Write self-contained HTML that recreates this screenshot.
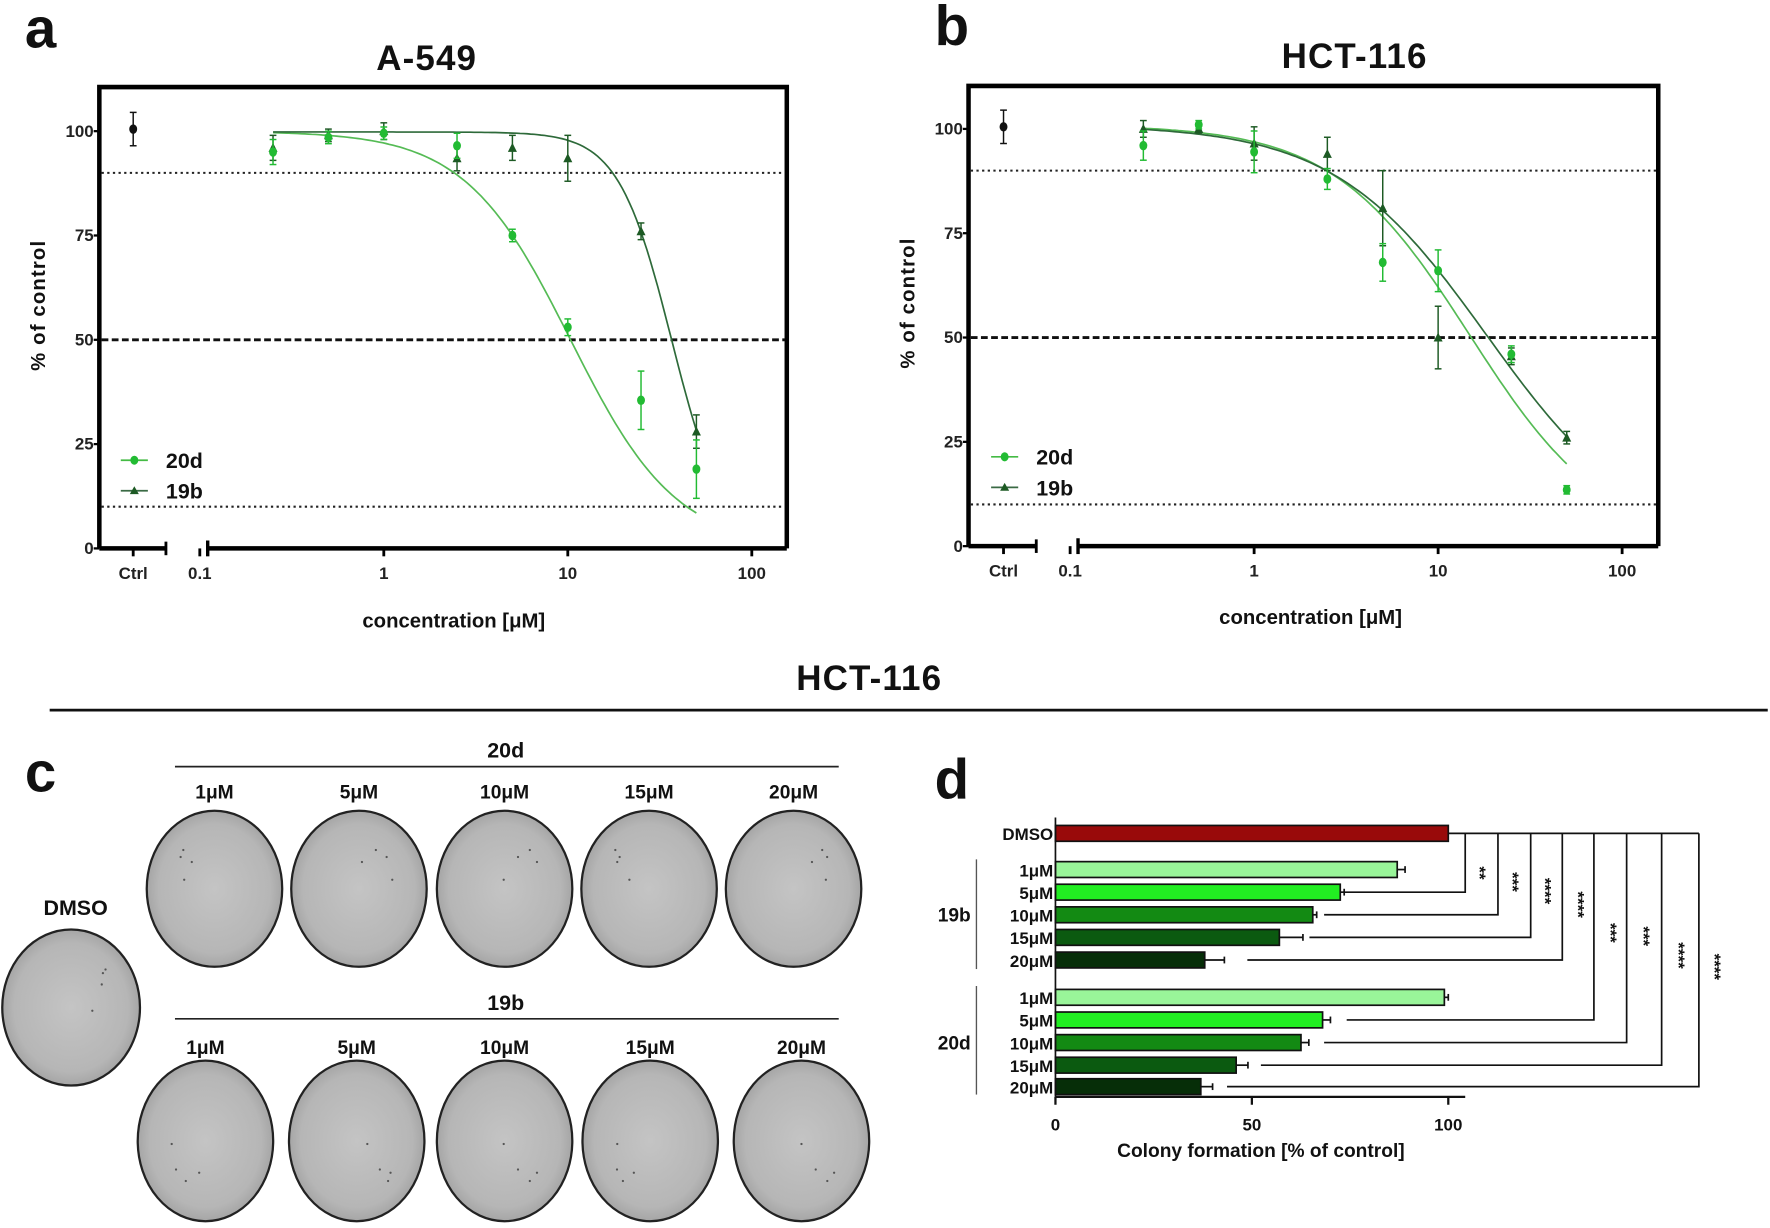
<!DOCTYPE html>
<html><head><meta charset="utf-8">
<style>
html,body{margin:0;padding:0;background:#fff;}
svg{display:block;font-family:"Liberation Sans",sans-serif;}
</style></head>
<body>
<svg id="s" width="1770" height="1228" viewBox="0 0 1568 1086" preserveAspectRatio="none" xmlns="http://www.w3.org/2000/svg">
<rect width="1568" height="1086" fill="#fff"/>
<g font-weight="bold" fill="#111">
<text x="22" y="42" font-size="50">a</text>
<text x="828" y="40" font-size="50">b</text>
<text x="22" y="700" font-size="50">c</text>
<text x="828" y="706" font-size="50">d</text>
<text x="378" y="62" font-size="31" text-anchor="middle" letter-spacing="1">A-549</text>
<text x="1200" y="60" font-size="31" text-anchor="middle" letter-spacing="1">HCT-116</text>
<text x="770" y="610" font-size="31" text-anchor="middle" letter-spacing="1">HCT-116</text>
<text x="402" y="555" font-size="18" text-anchor="middle">concentration [μM]</text>
<text x="1161" y="552" font-size="18" text-anchor="middle">concentration [μM]</text>
<text transform="translate(40,270) rotate(-90)" font-size="18" text-anchor="middle" letter-spacing="1">% of control</text>
<text transform="translate(810,268) rotate(-90)" font-size="18" text-anchor="middle" letter-spacing="1">% of control</text>
</g>
<line x1="44" y1="628" x2="1566" y2="628" stroke="#111" stroke-width="2.5"/>
<g id="plots"></g>
<g id="dishes"></g>
<g id="bars"></g>
</svg>
<script>
var NS="http://www.w3.org/2000/svg";
function el(p,t,a,txt){var e=document.createElementNS(NS,t);for(var k in a)e.setAttribute(k,a[k]);if(txt!==undefined)e.textContent=txt;p.appendChild(e);return e;}
var P=document.getElementById('plots');
function panel(o){
 var L=o.L,R=o.R,T=o.T,B=o.B;
 var X=function(c){return o.x1+Math.log10(c)*163;};
 var Y=function(v){return B-v*(B-o.y100)/100;};
 el(P,'polyline',{points:L+','+B+' '+L+','+T+' '+R+','+T+' '+R+','+B,fill:'none',stroke:'#000','stroke-width':4});
 el(P,'line',{x1:L,y1:B,x2:o.cx+29,y2:B,stroke:'#000','stroke-width':4});
 el(P,'line',{x1:o.cx+29,y1:B-6,x2:o.cx+29,y2:B+6,stroke:'#000','stroke-width':2.5});
 el(P,'line',{x1:o.x1-163+7,y1:B,x2:R,y2:B,stroke:'#000','stroke-width':4});
 el(P,'line',{x1:o.x1-163+7,y1:B-7,x2:o.x1-163+7,y2:B+7,stroke:'#000','stroke-width':3});
 var xt=[[o.cx,'Ctrl'],[X(0.1),'0.1'],[X(1),'1'],[X(10),'10'],[X(100),'100']];
 xt.forEach(function(t){el(P,'line',{x1:t[0],y1:B,x2:t[0],y2:B+7,stroke:'#000','stroke-width':2.5});
  el(P,'text',{x:t[0],y:B+27,'font-size':15,'font-weight':'bold','text-anchor':'middle',fill:'#222'},t[1]);});
 [0,25,50,75,100].forEach(function(v){var y=Y(v);el(P,'line',{x1:L-5,y1:y,x2:L,y2:y,stroke:'#000','stroke-width':2});
  el(P,'text',{x:L-5,y:y+5,'font-size':15,'font-weight':'bold','text-anchor':'end',fill:'#222'},''+v);});
 el(P,'line',{x1:L+2,y1:Y(90),x2:R-2,y2:Y(90),stroke:'#222','stroke-width':1.8,'stroke-dasharray':'2,3'});
 el(P,'line',{x1:L+2,y1:Y(10),x2:R-2,y2:Y(10),stroke:'#222','stroke-width':1.8,'stroke-dasharray':'2,3'});
 el(P,'line',{x1:L+2,y1:Y(50),x2:R-2,y2:Y(50),stroke:'#111','stroke-width':2.5,'stroke-dasharray':'6,3'});
 o.curves.forEach(function(c){var pts=[];for(var i=0;i<=120;i++){var lx=Math.log10(0.25)+i*(Math.log10(50)-Math.log10(0.25))/120;var x=Math.pow(10,lx);var v=c.top/(1+Math.pow(x/c.ic,c.h));pts.push(X(x).toFixed(1)+','+Y(v).toFixed(1));}
  el(P,'polyline',{points:pts.join(' '),fill:'none',stroke:c.col,'stroke-width':1.5});});
 var conc=[0.25,0.5,1,2.5,5,10,25,50];
 function pt(x,v,e,col,tri){el(P,'line',{x1:x,y1:Y(v+e),x2:x,y2:Y(v-e),stroke:col,'stroke-width':1.3});
  el(P,'line',{x1:x-3,y1:Y(v+e),x2:x+3,y2:Y(v+e),stroke:col,'stroke-width':1.3});el(P,'line',{x1:x-3,y1:Y(v-e),x2:x+3,y2:Y(v-e),stroke:col,'stroke-width':1.3});
  if(tri){var y=Y(v);el(P,'polygon',{points:(x-4)+','+(y+3.5)+' '+(x+4)+','+(y+3.5)+' '+x+','+(y-4.5),fill:col});}
  else el(P,'ellipse',{cx:x,cy:Y(v),rx:3.5,ry:4.2,fill:col});}
 pt(o.cx,100.5,4,'#111',false);
 o.s19.forEach(function(d,i){pt(X(conc[i]),d[0],d[1],'#1d5a24',true);});
 o.s20.forEach(function(d,i){pt(X(conc[i]),d[0],d[1],'#22bb33',false);});
 var lx=o.lx,ly=o.ly;
 el(P,'line',{x1:lx,y1:ly,x2:lx+24,y2:ly,stroke:'#44bb44','stroke-width':1.5});
 el(P,'ellipse',{cx:lx+12,cy:ly,rx:3.5,ry:4,fill:'#22bb33'});
 el(P,'line',{x1:lx,y1:ly+27,x2:lx+24,y2:ly+27,stroke:'#3a6a44','stroke-width':1.5});
 el(P,'polygon',{points:(lx+8)+','+(ly+30)+' '+(lx+16)+','+(ly+30)+' '+(lx+12)+','+(ly+23),fill:'#1d5a24'});
 el(P,'text',{x:lx+40,y:ly+7,'font-size':19,'font-weight':'bold',fill:'#111'},'20d');
 el(P,'text',{x:lx+40,y:ly+34,'font-size':19,'font-weight':'bold',fill:'#111'},'19b');
}
panel({L:88,R:697,T:77,B:485,y100:116,cx:118,x1:340,lx:107,ly:407,
 curves:[{top:100,ic:10.35,h:1.51,col:'#55bb55'},{top:99.8,ic:36.7,h:3.0,col:'#2e6a3a'}],
 s20:[[95,3],[98.5,1.5],[99.5,1.5],[96.5,3],[75,1.5],[53,2],[35.5,7],[19,7]],
 s19:[[96,3],[99,1.5],[100,2],[93.5,3],[96,3],[93.5,5.5],[76,2],[28,4]]});
panel({L:858,R:1469,T:76,B:483,y100:114,cx:889,x1:1111,lx:878,ly:404,
 curves:[{top:101,ic:14.9,h:1.17,col:'#55bb55'},{top:101,ic:18.4,h:1.047,col:'#2e6a3a'}],
 s20:[[96,3.5],[101,1],[94.5,5],[88,2.5],[68,4.5],[66,5],[46,2],[13.5,1]],
 s19:[[100,2],[100,1],[96.5,4],[94,4],[81,9],[50,7.5],[45.5,2],[26,1.5]]});
var D=document.getElementById('dishes');
var defs=el(D,'defs',{});
var g=el(defs,'radialGradient',{id:'dg',cx:'50%',cy:'50%',r:'55%'});
el(g,'stop',{offset:'0%','stop-color':'#c4c4c4'});el(g,'stop',{offset:'75%','stop-color':'#b6b6b6'});el(g,'stop',{offset:'100%','stop-color':'#9c9c9c'});
function dish(cx,cy,rx,ry){el(D,'ellipse',{cx:cx,cy:cy,rx:rx,ry:ry,fill:'url(#dg)',stroke:'#222','stroke-width':2});
 for(var i=0;i<4;i++){var a=Math.sin(cx*7+i*13)*0.5,b=Math.cos(cy*3+i*7)*0.5;el(D,'circle',{cx:cx+a*rx,cy:cy+b*ry,r:1,fill:'#555'});}}
var c1=[190,318,447,575,703],c2=[182,316,447,576,710],lab=['1μM','5μM','10μM','15μM','20μM'];
c1.forEach(function(x,i){dish(x,786,60,69);el(D,'text',{x:x,y:706,'font-size':17,'font-weight':'bold','text-anchor':'middle',fill:'#111'},lab[i]);});
c2.forEach(function(x,i){dish(x,1009,60,71);el(D,'text',{x:x,y:932,'font-size':17,'font-weight':'bold','text-anchor':'middle',fill:'#111'},lab[i]);});
dish(63,891,61,69);
el(D,'text',{x:67,y:809,'font-size':19,'font-weight':'bold','text-anchor':'middle',fill:'#111'},'DMSO');
el(D,'text',{x:448,y:670,'font-size':19,'font-weight':'bold','text-anchor':'middle',fill:'#111'},'20d');
el(D,'text',{x:448,y:893,'font-size':19,'font-weight':'bold','text-anchor':'middle',fill:'#111'},'19b');
el(D,'line',{x1:155,y1:678,x2:743,y2:678,stroke:'#222','stroke-width':1.5});
el(D,'line',{x1:155,y1:901,x2:743,y2:901,stroke:'#222','stroke-width':1.5});
var Bg=document.getElementById('bars');
var X0=935,S=3.48;
var rows=[['DMSO',737,100,0,'#990a0a'],['1μM',769,87,2,'#99f599'],['5μM',789,72.5,1,'#22ee22'],['10μM',809,65.5,1,'#138a13'],['15μM',829,57,6,'#0b5a10'],['20μM',849,38,5,'#062e08'],
 ['1μM',882,99,1,'#99f599'],['5μM',902,68,2,'#22ee22'],['10μM',922,62.5,2,'#138a13'],['15μM',942,46,3,'#0b5a10'],['20μM',961,37,3,'#062e08']];
rows.forEach(function(r){var w=r[2]*S;el(Bg,'rect',{x:X0,y:r[1]-7,width:w,height:14,fill:r[4],stroke:'#111','stroke-width':1.5});
 if(r[3]){el(Bg,'line',{x1:X0+w,y1:r[1],x2:X0+w+r[3]*S,y2:r[1],stroke:'#111','stroke-width':1.5});el(Bg,'line',{x1:X0+w+r[3]*S,y1:r[1]-3,x2:X0+w+r[3]*S,y2:r[1]+3,stroke:'#111','stroke-width':1.5});}
 el(Bg,'text',{x:X0-2,y:r[1]+6,'font-size':15,'font-weight':'bold','text-anchor':'end',fill:'#111'},r[0]);});
el(Bg,'line',{x1:X0,y1:723,x2:X0,y2:970,stroke:'#111','stroke-width':1.5});
el(Bg,'line',{x1:X0,y1:970,x2:1298,y2:970,stroke:'#111','stroke-width':2});
[[0,'0'],[50,'50'],[100,'100']].forEach(function(t){var x=X0+t[0]*S;el(Bg,'line',{x1:x,y1:970,x2:x,y2:977,stroke:'#111','stroke-width':2});
 el(Bg,'text',{x:x,y:1000,'font-size':15,'font-weight':'bold','text-anchor':'middle',fill:'#111'},t[1]);});
el(Bg,'text',{x:1117,y:1023,'font-size':17,'font-weight':'bold','text-anchor':'middle',fill:'#111'},'Colony formation [% of control]');
el(Bg,'text',{x:860,y:815,'font-size':17,'font-weight':'bold','text-anchor':'end',fill:'#111'},'19b');
el(Bg,'text',{x:860,y:928,'font-size':17,'font-weight':'bold','text-anchor':'end',fill:'#111'},'20d');
el(Bg,'line',{x1:865,y1:760,x2:865,y2:857,stroke:'#555','stroke-width':1.2});
el(Bg,'line',{x1:865,y1:872,x2:865,y2:968,stroke:'#555','stroke-width':1.2});
el(Bg,'line',{x1:1283,y1:737,x2:1505,y2:737,stroke:'#111','stroke-width':1.5});
var br=[[1298,789,1190,'**',1311,772],[1327,809,1173,'***',1340,780],[1356,829,1160,'****',1369,788],[1384,849,1105,'****',1398,800],
 [1412,902,1193,'***',1427,825],[1441,922,1173,'***',1456,828],[1472,942,1117,'****',1487,845],[1505,961,1087,'****',1519,855]];
br.forEach(function(b){el(Bg,'polyline',{points:b[2]+','+b[1]+' '+b[0]+','+b[1]+' '+b[0]+',737',fill:'none',stroke:'#111','stroke-width':1.5});
 el(Bg,'text',{transform:'translate('+(b[4]-5)+','+b[5]+') rotate(90)','font-size':15,'font-weight':'bold','text-anchor':'middle',fill:'#111'},b[3]);});
</script>
</body></html>
